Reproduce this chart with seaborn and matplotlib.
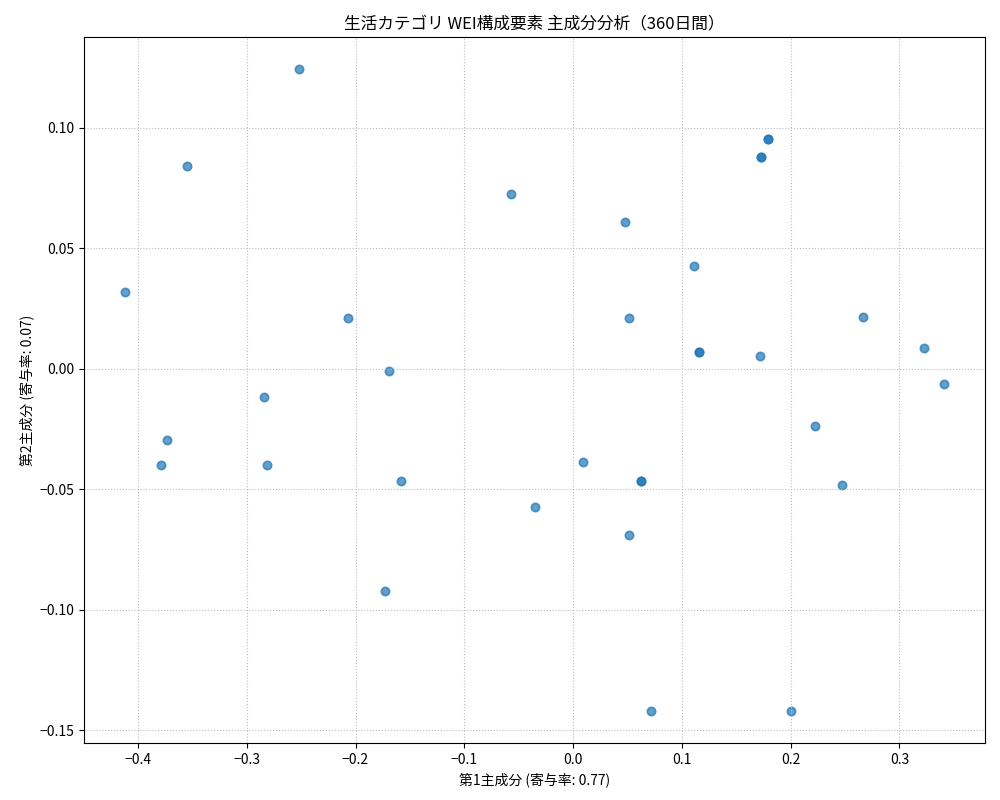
import numpy as np
import pandas as pd
import matplotlib
matplotlib.use("Agg")
import matplotlib.pyplot as plt
import seaborn as sns

# PCA scores (duplicates = overlapping days)
pc1 = [-0.252, -0.355, -0.412, -0.207, -0.169, -0.284, -0.373, -0.379, -0.281,
       -0.158, -0.173, -0.057, 0.048, 0.051, 0.009, -0.035, 0.0515, 0.062, 0.062,
       0.072, 0.111, 0.116, 0.116, 0.173, 0.173, 0.179, 0.179, 0.172, 0.200,
       0.2226, 0.2475, 0.2668, 0.323, 0.341]
pc2 = [0.1244, 0.0840, 0.0320, 0.0212, -0.0008, -0.0116, -0.0295, -0.0400, -0.0400,
       -0.0466, -0.0920, 0.0724, 0.0607, 0.0212, -0.0387, -0.0574, -0.0690, -0.0466,
       -0.0466, -0.1420, 0.0428, 0.0071, 0.0071, 0.0880, 0.0880, 0.0953, 0.0953,
       0.0054, -0.1418, -0.0237, -0.0483, 0.0216, 0.0087, -0.0062]

ratio1 = 0.77
ratio2 = 0.07

df = pd.DataFrame({"PC1": pc1, "PC2": pc2})

plt.rcParams['font.family'] = ['Noto Sans CJK JP', 'DejaVu Sans']

fig, ax = plt.subplots(figsize=(10, 8), dpi=100)
sns.scatterplot(data=df, x="PC1", y="PC2", ax=ax, alpha=0.7, s=36,
                color="#1f77b4", edgecolor="face", linewidth=1.2)
ax.set_title("生活カテゴリ WEI構成要素 主成分分析（360日間）")
ax.set_xlabel(f"第1主成分 (寄与率: {ratio1:.2f})")
ax.set_ylabel(f"第2主成分 (寄与率: {ratio2:.2f})")
ax.grid(True, linestyle=":", color="#bbbbbb")
fig.subplots_adjust(left=0.084, right=0.985, top=0.954, bottom=0.071)
plt.savefig("out.png", dpi=100)
